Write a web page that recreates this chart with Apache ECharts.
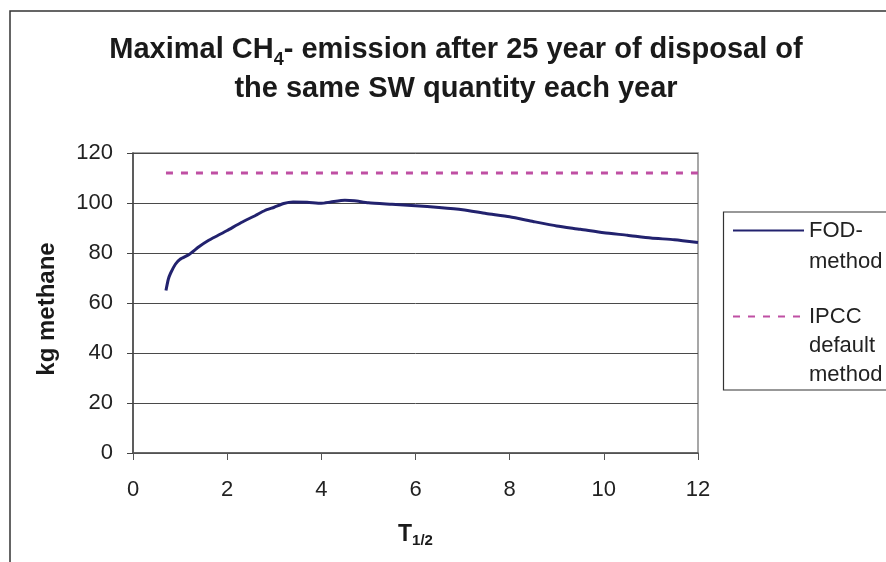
<!DOCTYPE html>
<html>
<head>
<meta charset="utf-8">
<script src="https://cdn.jsdelivr.net/npm/echarts@6/dist/echarts.min.js"></script>
<style>
  html, body { margin: 0; padding: 0; background: #fff; }
  #chart { width: 886px; height: 562px; }
</style>
</head>
<body>
<div id="chart"></div>
<script>
// half-life T1/2 (years) and the FOD curve
const tHalf = [0.7, 0.75, 0.8, 0.9, 1.0, 1.2, 1.4, 1.6, 1.8, 2.0, 2.3, 2.6, 2.8, 3.0, 3.2, 3.4, 3.7, 4.0, 4.2, 4.5, 4.7, 5.0, 5.5, 6.0, 6.5, 7.0, 7.5, 8.0, 8.5, 9.0, 9.5, 10.0, 10.5, 11.0, 11.5, 12.0]
const fodValues = [65, 69.5, 72, 75.5, 77.5, 79.5, 82.5, 85, 87, 89, 92.2, 95, 97, 98.3, 99.8, 100.4, 100.3, 99.9, 100.4, 101.1, 100.9, 100.1, 99.5, 98.9, 98.2, 97.3, 95.8, 94.5, 92.6, 90.8, 89.5, 88.1, 87.1, 86.0, 85.3, 84.2]
// IPCC default: flat line
const ipccT = [0.7, 12]
const ipccValues = [112, 112]
const xTicks = [0, 2, 4, 6, 8, 10, 12]
const yTicks = [0, 20, 40, 60, 80, 100, 120]

const FONT = "'Liberation Sans', Arial, sans-serif"
// blank lines on top so the first text line sits level with the legend line
const legendText = {
  'FOD-method': ' \nFOD-\nmethod',
  'IPCC default method': ' \n \nIPCC\ndefault\nmethod'
}

const chart = echarts.init(document.getElementById('chart'))

chart.setOption({
  animation: false,
  title: {
    text: 'Maximal CH{sub|4}- emission after 25 year of disposal of\nthe same SW quantity each year',
    left: 451,
    top: 25,
    textAlign: 'center',
    textStyle: {
      fontFamily: FONT,
      fontSize: 29,
      fontWeight: 'bold',
      color: '#1a1a1a',
      lineHeight: 39,
      rich: {
        sub: { fontFamily: FONT, fontSize: 18, fontWeight: 'bold', color: '#1a1a1a', lineHeight: 24, verticalAlign: 'bottom' }
      }
    }
  },
  graphic: [
    { type: 'rect', shape: { x: 10, y: 11, width: 1000, height: 1000 }, style: { fill: 'none', stroke: '#333', lineWidth: 1.5 }, silent: true },
    { type: 'rect', shape: { x: 723.5, y: 212, width: 200, height: 178 }, style: { fill: 'none', stroke: '#333', lineWidth: 1.2 }, silent: true }
  ],
  legend: [
    {
      data: ['FOD-method'],
      left: 732,
      top: 184,
      padding: 0,
      itemWidth: 71,
      itemHeight: 14,
      itemStyle: { opacity: 0 },
      formatter: name => legendText[name],
      textStyle: { fontFamily: FONT, fontSize: 22, color: '#222', lineHeight: 31 }
    },
    {
      data: ['IPCC default method'],
      left: 732,
      top: 244,
      padding: 0,
      itemWidth: 71,
      itemHeight: 14,
      itemStyle: { opacity: 0 },
      formatter: name => legendText[name],
      textStyle: { fontFamily: FONT, fontSize: 22, color: '#222', lineHeight: 29 }
    }
  ],
  grid: {
    left: 133,
    right: 188,
    top: 153,
    bottom: 109,
    show: true,
    borderColor: '#8a8a8a',
    borderWidth: 1.5
  },
  xAxis: {
    type: 'value',
    min: xTicks[0],
    max: xTicks[xTicks.length - 1],
    interval: 2,
    name: '{t|T}{s|1/2}',
    nameLocation: 'middle',
    nameGap: 69,
    nameTextStyle: {
      rich: {
        t: { fontFamily: FONT, fontSize: 23, fontWeight: 'bold', color: '#1a1a1a', lineHeight: 26 },
        s: { fontFamily: FONT, fontSize: 15, fontWeight: 'bold', color: '#1a1a1a', lineHeight: 16, verticalAlign: 'bottom' }
      }
    },
    axisLine: { show: true, lineStyle: { color: '#555', width: 1.5 } },
    axisTick: { show: true, inside: false, length: 7, lineStyle: { color: '#555' } },
    axisLabel: { margin: 26, fontFamily: FONT, fontSize: 22, color: '#222' },
    splitLine: { show: false }
  },
  yAxis: {
    type: 'value',
    min: yTicks[0],
    max: yTicks[yTicks.length - 1],
    interval: 20,
    name: 'kg methane',
    nameLocation: 'middle',
    nameRotate: 90,
    nameGap: 74,
    nameTextStyle: { fontFamily: FONT, fontSize: 24, fontWeight: 'bold', color: '#1a1a1a', padding: [0, 12, 0, 0] },
    axisLine: { show: true, lineStyle: { color: '#444', width: 1.5 } },
    axisTick: { show: true, inside: false, length: 6, lineStyle: { color: '#444' } },
    axisLabel: { margin: 20, fontFamily: FONT, fontSize: 22, color: '#222' },
    splitLine: { show: true, lineStyle: { color: '#4a4a4a', width: 1 } }
  },
  series: [
    {
      name: 'FOD-method',
      type: 'line',
      symbol: 'none',
      smooth: 0.2,
      data: tHalf.map((t, i) => [t, fodValues[i]]),
      lineStyle: { color: '#22226e', width: 3 },
      itemStyle: { color: '#22226e' }
    },
    {
      name: 'IPCC default method',
      type: 'line',
      symbol: 'none',
      data: ipccT.map((t, i) => [t, ipccValues[i]]),
      lineStyle: { color: '#bf4fa3', width: 3, type: [7, 8] },
      itemStyle: { color: '#bf4fa3' }
    }
  ]
})
</script>
</body>
</html>
